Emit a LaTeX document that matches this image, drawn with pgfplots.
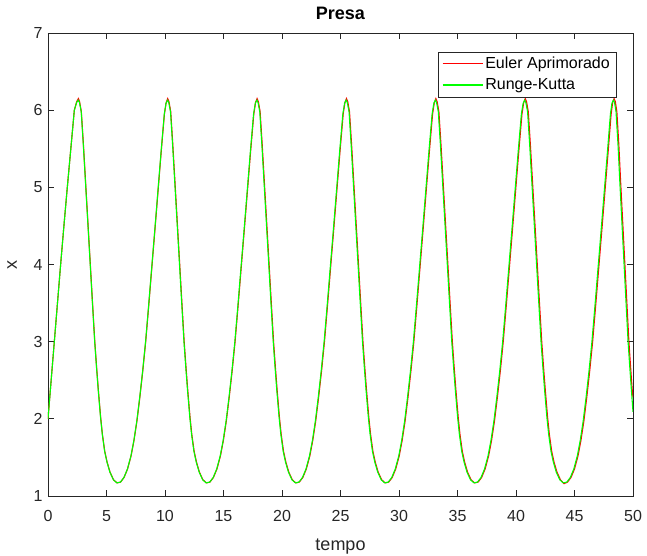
\documentclass[border=0pt]{standalone}
\usepackage{fontspec}
\setmainfont{Liberation Sans}
\usepackage{pgfplots}
\pgfplotsset{compat=1.18}
\usepackage{pgfplotstable}
\definecolor{axgray}{gray}{0.15}
\definecolor{mred}{rgb}{1,0,0}
\definecolor{mgreen}{rgb}{0,1,0}

\pgfplotstableread{
t x
0 2.0
0.27 2.5
0.54 3.0
0.81 3.5
1.08 4.0
1.36 4.5
1.65 5.0
1.95 5.5
2.25 6.0
2.45 6.10
2.59 6.13
2.69 6.10
2.84 5.98
3.02 5.55
3.21 5.05
3.40 4.55
3.59 4.05
3.79 3.52
3.99 3.00
4.14 2.68
4.29 2.38
4.49 2.02
4.64 1.80
4.84 1.58
5.04 1.44
5.29 1.31
5.59 1.21
5.89 1.17
6.19 1.18
6.49 1.24
6.79 1.35
7.09 1.52
7.34 1.72
7.59 1.97
7.84 2.28
8.09 2.62
8.34 3.00
8.59 3.45
8.87 3.97
9.14 4.47
9.41 4.98
9.67 5.47
9.94 5.95
10.09 6.09
10.22 6.13
10.32 6.10
10.47 5.98
10.65 5.55
10.84 5.05
11.03 4.55
11.22 4.05
11.42 3.52
11.62 3.00
11.77 2.68
11.92 2.38
12.12 2.02
12.27 1.80
12.47 1.58
12.67 1.44
12.92 1.31
13.22 1.21
13.52 1.17
13.82 1.18
14.12 1.24
14.42 1.35
14.72 1.52
14.97 1.72
15.22 1.97
15.47 2.28
15.72 2.62
15.97 3.00
16.22 3.45
16.50 3.97
16.77 4.47
17.04 4.98
17.30 5.47
17.57 5.95
17.72 6.09
17.85 6.13
17.95 6.10
18.10 5.98
18.28 5.55
18.47 5.05
18.66 4.55
18.85 4.05
19.05 3.52
19.25 3.00
19.40 2.68
19.55 2.38
19.75 2.02
19.90 1.80
20.10 1.58
20.30 1.44
20.55 1.31
20.85 1.21
21.15 1.17
21.45 1.18
21.75 1.24
22.05 1.35
22.35 1.52
22.60 1.72
22.85 1.97
23.10 2.28
23.35 2.62
23.60 3.00
23.85 3.45
24.13 3.97
24.40 4.47
24.67 4.98
24.93 5.47
25.20 5.95
25.35 6.09
25.48 6.13
25.58 6.10
25.73 5.98
25.91 5.55
26.10 5.05
26.29 4.55
26.48 4.05
26.68 3.52
26.88 3.00
27.03 2.68
27.18 2.38
27.38 2.02
27.53 1.80
27.73 1.58
27.93 1.44
28.18 1.31
28.48 1.21
28.78 1.17
29.08 1.18
29.38 1.24
29.68 1.35
29.98 1.52
30.23 1.72
30.48 1.97
30.73 2.28
30.98 2.62
31.23 3.00
31.48 3.45
31.76 3.97
32.03 4.47
32.30 4.98
32.56 5.47
32.83 5.95
32.98 6.09
33.11 6.13
33.21 6.10
33.36 5.98
33.54 5.55
33.73 5.05
33.92 4.55
34.11 4.05
34.31 3.52
34.51 3.00
34.66 2.68
34.81 2.38
35.01 2.02
35.16 1.80
35.36 1.58
35.56 1.44
35.81 1.31
36.11 1.21
36.41 1.17
36.71 1.18
37.01 1.24
37.31 1.35
37.61 1.52
37.86 1.72
38.11 1.97
38.36 2.28
38.61 2.62
38.86 3.00
39.11 3.45
39.39 3.97
39.66 4.47
39.93 4.98
40.19 5.47
40.46 5.95
40.61 6.09
40.74 6.13
40.84 6.10
40.99 5.98
41.17 5.55
41.36 5.05
41.55 4.55
41.74 4.05
41.94 3.52
42.14 3.00
42.29 2.68
42.44 2.38
42.64 2.02
42.79 1.80
42.99 1.58
43.19 1.44
43.44 1.31
43.74 1.21
44.04 1.17
44.34 1.18
44.64 1.24
44.94 1.35
45.24 1.52
45.49 1.72
45.74 1.97
45.99 2.28
46.24 2.62
46.49 3.00
46.74 3.45
47.02 3.97
47.29 4.47
47.56 4.98
47.82 5.47
48.07 5.95
48.20 6.09
48.32 6.13
48.42 6.10
48.55 5.98
48.72 5.55
48.88 5.05
49.05 4.55
49.22 4.05
49.40 3.52
49.58 3.00
49.72 2.68
49.86 2.38
50.00 2.09
}\greendata

\pgfplotstableread{
t x
0 2.0
0.27 2.5
0.54 3.0
0.81 3.5
1.08 4.0
1.36 4.5
1.65 5.0
1.95 5.5
2.25 6.0
2.45 6.11
2.60 6.15
2.70 6.11
2.85 5.98
3.03 5.55
3.22 5.05
3.41 4.55
3.60 4.05
3.80 3.52
4.00 3.00
4.15 2.68
4.30 2.38
4.50 2.02
4.65 1.80
4.85 1.58
5.05 1.44
5.30 1.31
5.60 1.21
5.90 1.17
6.20 1.18
6.50 1.24
6.80 1.35
7.10 1.52
7.35 1.72
7.60 1.97
7.85 2.28
8.10 2.62
8.35 3.00
8.60 3.45
8.88 3.97
9.15 4.47
9.42 4.98
9.68 5.47
9.95 5.95
10.10 6.10
10.23 6.15
10.34 6.11
10.49 5.98
10.67 5.55
10.86 5.05
11.05 4.55
11.24 4.05
11.44 3.52
11.64 3.00
11.79 2.68
11.94 2.38
12.14 2.02
12.29 1.80
12.49 1.58
12.69 1.44
12.94 1.31
13.24 1.21
13.54 1.17
13.84 1.18
14.14 1.24
14.44 1.35
14.74 1.52
14.99 1.72
15.24 1.97
15.49 2.28
15.74 2.62
15.99 3.00
16.24 3.45
16.52 3.97
16.79 4.47
17.06 4.98
17.32 5.47
17.59 5.95
17.74 6.10
17.87 6.15
17.98 6.11
18.13 5.98
18.31 5.55
18.50 5.05
18.69 4.55
18.88 4.05
19.08 3.52
19.28 3.00
19.43 2.68
19.58 2.38
19.78 2.02
19.93 1.80
20.13 1.58
20.33 1.44
20.58 1.31
20.88 1.21
21.18 1.17
21.48 1.18
21.78 1.24
22.08 1.35
22.38 1.52
22.63 1.72
22.88 1.97
23.13 2.28
23.38 2.62
23.63 3.00
23.88 3.45
24.16 3.97
24.43 4.47
24.70 4.98
24.96 5.47
25.23 5.95
25.38 6.10
25.51 6.15
25.62 6.11
25.77 5.98
25.95 5.55
26.14 5.05
26.33 4.55
26.52 4.05
26.72 3.52
26.92 3.00
27.07 2.68
27.22 2.38
27.42 2.02
27.57 1.80
27.77 1.58
27.97 1.44
28.22 1.31
28.52 1.21
28.82 1.17
29.12 1.18
29.42 1.24
29.72 1.35
30.02 1.52
30.27 1.72
30.52 1.97
30.77 2.28
31.02 2.62
31.27 3.00
31.52 3.45
31.80 3.97
32.07 4.47
32.34 4.98
32.60 5.47
32.87 5.95
33.02 6.10
33.15 6.15
33.26 6.11
33.41 5.98
33.59 5.55
33.78 5.05
33.97 4.55
34.16 4.05
34.36 3.52
34.56 3.00
34.71 2.68
34.86 2.38
35.06 2.02
35.21 1.80
35.41 1.58
35.61 1.44
35.86 1.31
36.16 1.21
36.46 1.17
36.76 1.18
37.06 1.24
37.36 1.35
37.66 1.52
37.91 1.72
38.16 1.97
38.41 2.28
38.66 2.62
38.91 3.00
39.16 3.45
39.44 3.97
39.71 4.47
39.98 4.98
40.24 5.47
40.51 5.95
40.66 6.10
40.79 6.15
40.90 6.11
41.05 5.98
41.23 5.55
41.42 5.05
41.61 4.55
41.80 4.05
42.00 3.52
42.20 3.00
42.35 2.68
42.50 2.38
42.70 2.02
42.85 1.80
43.05 1.58
43.25 1.44
43.50 1.31
43.80 1.21
44.10 1.16
44.40 1.18
44.70 1.24
45.00 1.35
45.30 1.52
45.55 1.72
45.80 1.97
46.05 2.28
46.30 2.62
46.55 3.00
46.80 3.45
47.08 3.97
47.35 4.47
47.62 4.98
47.88 5.47
48.13 5.95
48.26 6.10
48.38 6.15
48.49 6.11
48.62 5.98
48.79 5.55
48.95 5.05
49.12 4.55
49.29 4.05
49.47 3.52
49.65 3.00
49.79 2.68
49.93 2.38
50.00 2.28
}\reddata

\begin{document}
\begin{tikzpicture}
\path[use as bounding box] (-48pt,-59pt) rectangle (599pt,496pt);
\begin{axis}[
  scale only axis, width=585pt, height=463pt,
  at={(0pt,0pt)}, anchor=south west,
  xmin=0, xmax=50, ymin=1, ymax=7,
  xtick={0,5,...,50}, ytick={1,2,...,7},
  tick align=inside, major tick length=6pt,
  axis line style={axgray, line width=0.8pt},
  every tick/.style={axgray, line width=0.8pt},
  tick label style={font=\fontsize{16}{18}\selectfont, text=axgray},
  /pgf/number format/assume math mode=true,
  xticklabel style={yshift=-11pt},
  yticklabel style={xshift=-2pt},
  title={\textbf{Presa}},
  title style={font=\fontsize{18}{20}\selectfont, at={(axis description cs:0.5,1)}, anchor=south, yshift=4pt},
  xlabel={tempo}, ylabel={x},
  label style={font=\fontsize{18}{20}\selectfont, text=axgray},
  xlabel style={at={(axis description cs:0.5,0)}, anchor=center, yshift=-51pt},
  ylabel style={at={(axis description cs:-0.0615,0.5)}, anchor=center, rotate=0},
  legend cell align=left,
  legend style={at={(axis description cs:1,1)}, anchor=north east, xshift=-17pt, yshift=-18.5pt,
    draw=axgray, font=\fontsize{16}{18}\selectfont, inner xsep=4pt, inner ysep=3.5pt,
    row sep=4.5pt},
  legend image code/.code={\draw[#1, line width=1.3pt] (0pt,0pt) -- (40pt,0pt);},
]
\addplot[draw=mred, line width=1.1pt] table[x=t, y=x] {\reddata};
\addlegendentry{Euler Aprimorado}
\addplot[draw=mgreen, line width=1.1pt] table[x=t, y=x] {\greendata};
\addlegendentry{Runge-Kutta}
\end{axis}
\end{tikzpicture}
\end{document}
